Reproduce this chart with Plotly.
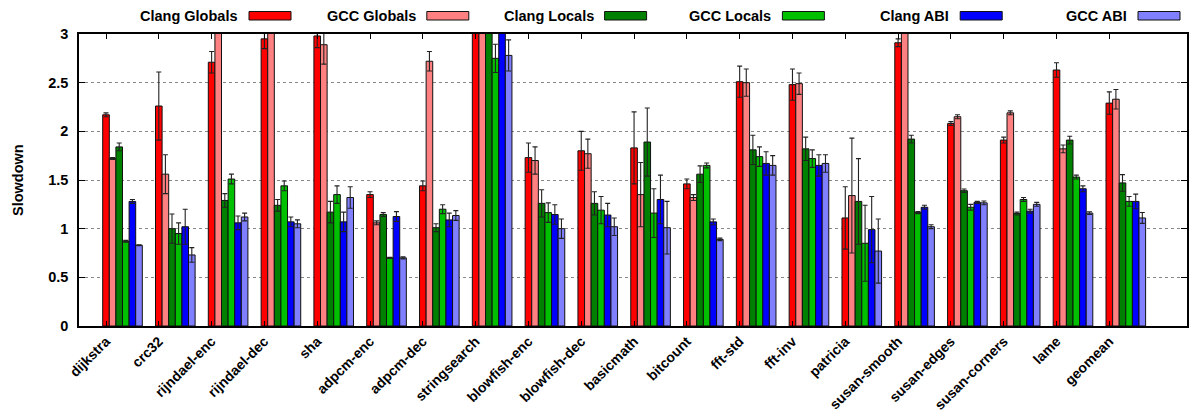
import plotly.graph_objects as go

# Benchmarks (clusters along the x axis)
categories = ["dijkstra", "crc32", "rijndael-enc", "rijndael-dec", "sha",
              "adpcm-enc", "adpcm-dec", "stringsearch", "blowfish-enc",
              "blowfish-dec", "basicmath", "bitcount", "fft-std", "fft-inv",
              "patricia", "susan-smooth", "susan-edges", "susan-corners",
              "lame", "geomean"]

# Slowdown per configuration, with error (+/-) per benchmark
clang_globals = [2.17, 2.26, 2.71, 2.95, 2.98, 1.35, 1.44, 3.40, 1.73, 1.80,
                 1.83, 1.46, 2.51, 2.48, 1.11, 2.91, 2.08, 1.91, 2.63, 2.29]
clang_globals_err = [0.02, 0.35, 0.11, 0.10, 0.12, 0.03, 0.05, 0.10, 0.15, 0.20,
                     0.37, 0.05, 0.16, 0.16, 0.32, 0.04, 0.02, 0.03, 0.075, 0.115]

gcc_globals = [1.72, 1.56, 3.50, 3.50, 2.89, 1.06, 2.72, 3.40, 1.70, 1.77,
               1.35, 1.32, 2.50, 2.49, 1.34, 3.50, 2.15, 2.19, 1.82, 2.33]
gcc_globals_err = [0.01, 0.20, 0.10, 0.10, 0.20, 0.02, 0.10, 0.10, 0.14, 0.15,
                   0.33, 0.03, 0.14, 0.11, 0.59, 0.10, 0.02, 0.02, 0.04, 0.10]

clang_locals = [1.84, 1.00, 1.29, 1.24, 1.17, 1.145, 1.01, 3.30, 1.26, 1.26,
                1.89, 1.56, 1.81, 1.82, 1.28, 1.92, 1.39, 1.155, 1.91, 1.47]
clang_locals_err = [0.04, 0.15, 0.07, 0.06, 0.11, 0.02, 0.04, 0.10, 0.14, 0.12,
                    0.35, 0.085, 0.15, 0.12, 0.44, 0.04, 0.017, 0.015, 0.04, 0.085]

gcc_locals = [0.87, 0.95, 1.51, 1.44, 1.35, 0.70, 1.20, 2.75, 1.165, 1.19,
              1.16, 1.65, 1.74, 1.72, 0.85, 1.165, 1.22, 1.30, 1.53, 1.28]
gcc_locals_err = [0.01, 0.11, 0.05, 0.05, 0.09, 0.005, 0.045, 0.145, 0.10, 0.14,
                  0.25, 0.025, 0.10, 0.09, 0.39, 0.01, 0.03, 0.02, 0.02, 0.05]

clang_abi = [1.28, 1.02, 1.06, 1.07, 1.07, 1.125, 1.09, 3.20, 1.145, 1.14,
             1.30, 1.07, 1.67, 1.65, 0.99, 1.22, 1.27, 1.18, 1.41, 1.28]
clang_abi_err = [0.02, 0.18, 0.07, 0.05, 0.10, 0.05, 0.07, 0.10, 0.10, 0.12,
                 0.25, 0.03, 0.12, 0.11, 0.34, 0.02, 0.01, 0.02, 0.03, 0.075]

gcc_abi = [0.83, 0.73, 1.12, 1.05, 1.32, 0.70, 1.135, 2.78, 1.00, 1.02,
           1.01, 0.89, 1.65, 1.67, 0.77, 1.02, 1.265, 1.25, 1.16, 1.11]
gcc_abi_err = [0.005, 0.075, 0.04, 0.04, 0.11, 0.01, 0.05, 0.16, 0.10, 0.09,
               0.27, 0.013, 0.10, 0.09, 0.33, 0.02, 0.02, 0.02, 0.014, 0.056]

series = [
    ("Clang Globals", clang_globals, clang_globals_err, "#ff0000"),
    ("GCC Globals", gcc_globals, gcc_globals_err, "#ff8080"),
    ("Clang Locals", clang_locals, clang_locals_err, "#008000"),
    ("GCC Locals", gcc_locals, gcc_locals_err, "#00c000"),
    ("Clang ABI", clang_abi, clang_abi_err, "#0000ff"),
    ("GCC ABI", gcc_abi, gcc_abi_err, "#8080ff"),
]

y_ticks = [0, 0.5, 1, 1.5, 2, 2.5, 3]
y_tick_labels = ["0", "0.5", "1", "1.5", "2", "2.5", "3"]

FONT = "Liberation Sans"
W, H = 1189, 412
ML, MR, MT, MB = 79, 2, 34, 86

n_series = len(series)
gap = 2                              # empty bar slots between clusters
slot = 1.0 / (n_series + gap)        # width of one bar in category units
group_w = n_series * slot
first_offset = -group_w / 2 + slot / 2   # tick sits under the first bar

idx = list(range(len(categories)))

fig = go.Figure()
for name, vals, errs, color in series:
    fig.add_trace(go.Bar(
        name=name, x=idx, y=vals,
        marker=dict(color=color, line=dict(color="#111111", width=1)),
        error_y=dict(type="data", array=errs, visible=True,
                     color="#222222", thickness=1.1, width=2.5),
        showlegend=False,
    ))

# Key drawn above the plot: label on the left, colour swatch on the right
plot_w = W - ML - MR
plot_h = H - MT - MB


def px_x(px):
    return (px - ML) / plot_w


def px_y(py):
    return (H - MB - py) / plot_h


key_start, key_step, sw_w, sw_top, sw_bot = 249, 177.8, 42, 11.5, 20
for k, (name, _, _, color) in enumerate(series):
    x0 = key_start + k * key_step
    fig.add_shape(type="rect", xref="paper", yref="paper",
                  x0=px_x(x0), x1=px_x(x0 + sw_w),
                  y0=px_y(sw_bot), y1=px_y(sw_top),
                  fillcolor=color, line=dict(color="#111111", width=1))
    fig.add_annotation(xref="paper", yref="paper",
                       x=px_x(x0 - 9), y=px_y((sw_top + sw_bot) / 2),
                       text=name, showarrow=False,
                       xanchor="right", yanchor="middle",
                       font=dict(family=FONT, size=14.5, color="black",
                                 weight="bold"))

# Y axis title placed beside the tick labels
fig.add_annotation(xref="paper", yref="paper",
                   x=px_x(18), y=0.5, text="Slowdown", textangle=-90,
                   showarrow=False, xanchor="center", yanchor="middle",
                   font=dict(family=FONT, size=14.5, color="black",
                             weight="bold"))

fig.update_layout(
    width=W, height=H,
    margin=dict(l=ML, r=MR, t=MT, b=MB),
    paper_bgcolor="white", plot_bgcolor="white",
    barmode="group", bargap=gap * slot, bargroupgap=0,
    font=dict(family=FONT, size=14.5, color="black", weight="bold"),
    xaxis=dict(
        range=[first_offset - 4.09 * slot, first_offset + 163.77 * slot],
        tickmode="array",
        tickvals=[i + first_offset for i in idx],
        ticktext=categories,
        tickangle=-45,
        ticks="inside", ticklen=5, tickcolor="black",
        showline=True, linecolor="black", linewidth=1.5, mirror="ticks",
        showgrid=False, zeroline=False, automargin=False,
        ticklabelstandoff=0,
        tickfont=dict(family=FONT, size=14, color="black", weight="bold"),
    ),
    yaxis=dict(
        range=[0, 3],
        tickmode="array", tickvals=y_ticks, ticktext=y_tick_labels,
        ticks="inside", ticklen=6, tickcolor="black",
        showline=True, linecolor="black", linewidth=1.5, mirror="ticks",
        showgrid=True, gridcolor="#888888", griddash="dot", gridwidth=1,
        zeroline=False, automargin=False,
        ticklabelstandoff=6,
        tickfont=dict(family=FONT, size=14.5, color="black", weight="bold"),
    ),
)

fig.write_html("out.html")
